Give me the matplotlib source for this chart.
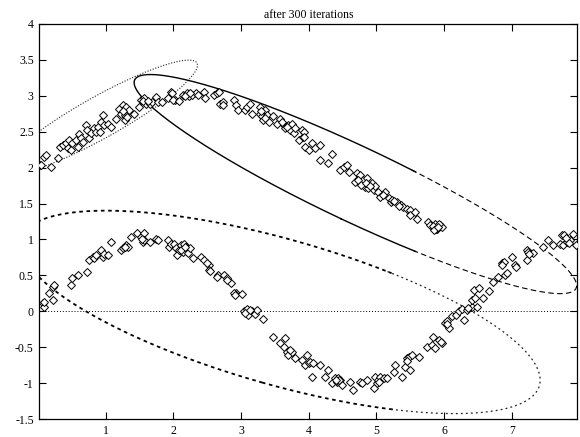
import numpy as np
import matplotlib
matplotlib.use("Agg")
import matplotlib.pyplot as plt

plt.rcParams.update({"font.family": "Liberation Serif", "font.size": 8.5})

# sample points, upper branch
upper_x = [0.03, 0.05, 0.095, 0.12, 0.19, 0.29, 0.32, 0.365, 0.41, 0.44, 0.46, 0.49,
           0.51, 0.56, 0.59, 0.61, 0.64, 0.66, 0.71, 0.73, 0.76, 0.78, 0.83, 0.86,
           0.88, 0.91, 0.93, 0.96, 0.98, 1.03, 1.08, 1.15, 1.20, 1.23, 1.25, 1.28,
           1.28, 1.30, 1.33, 1.35, 1.42, 1.50, 1.52, 1.57, 1.60, 1.65, 1.69, 1.74,
           1.77, 1.84, 1.92, 1.97, 2.02, 1.98, 2.00, 2.08, 2.15, 2.20, 2.23, 2.28,
           2.33, 2.37, 2.45, 2.47, 2.60, 2.65, 2.67, 2.69, 2.74, 2.74, 2.89, 2.92,
           2.96, 3.06, 3.09, 3.14, 3.16, 3.28, 3.28, 3.31, 3.36, 3.38, 3.33, 3.41,
           3.48, 3.53, 3.58, 3.63, 3.65, 3.70, 3.73, 3.75, 3.78, 3.80, 3.85, 3.90,
           3.92, 3.95, 4.00, 3.93, 3.93, 4.05, 4.10, 4.17, 4.17, 4.29, 4.34, 4.47,
           4.52, 4.57, 4.59, 4.69, 4.71, 4.74, 4.76, 4.79, 4.81, 4.83, 4.86, 4.88,
           4.93, 4.96, 4.98, 5.03, 5.06, 5.13, 5.18, 5.21, 5.23, 5.31, 5.36, 5.40,
           5.45, 5.50, 5.50, 5.57, 5.60, 5.77, 5.80, 5.85, 5.87, 5.90, 5.94, 5.97,
           5.83, 5.88, 5.92, 1.26, 1.32, 1.55, 1.62, 2.18, 2.25, 3.30, 3.35, 3.60,
           3.68, 4.73, 4.78, 4.84, 4.90, 5.10, 5.26, 5.34, 5.85, 5.91]
upper_y = [2.03, 2.04, 2.15, 2.17, 2.01, 2.13, 2.29, 2.31, 2.34, 2.27, 2.38, 2.25,
           2.34, 2.38, 2.29, 2.47, 2.41, 2.36, 2.59, 2.52, 2.41, 2.48, 2.55, 2.50,
           2.57, 2.50, 2.64, 2.73, 2.59, 2.61, 2.57, 2.68, 2.82, 2.75, 2.87, 2.73,
           2.66, 2.84, 2.75, 2.80, 2.75, 2.84, 2.94, 2.96, 2.89, 2.89, 2.91, 2.98,
           2.91, 2.91, 2.96, 3.05, 2.94, 3.03, 2.94, 2.92, 3.01, 3.03, 2.99, 3.01,
           3.03, 3.01, 3.05, 2.96, 3.01, 3.03, 3.05, 2.89, 2.91, 2.87, 2.94, 2.87,
           2.80, 2.80, 2.84, 2.89, 2.75, 2.84, 2.75, 2.71, 2.80, 2.73, 2.66, 2.64,
           2.71, 2.61, 2.68, 2.59, 2.55, 2.59, 2.52, 2.61, 2.48, 2.55, 2.38, 2.52,
           2.43, 2.29, 2.24, 2.50, 2.43, 2.34, 2.27, 2.31, 2.10, 2.06, 2.19, 1.96,
           2.01, 2.03, 1.94, 1.80, 1.92, 1.85, 1.89, 1.78, 1.82, 1.73, 1.85, 1.71,
           1.78, 1.69, 1.75, 1.66, 1.59, 1.66, 1.57, 1.52, 1.55, 1.52, 1.48, 1.45,
           1.43, 1.41, 1.34, 1.38, 1.29, 1.24, 1.20, 1.17, 1.22, 1.15, 1.20, 1.17,
           1.19, 1.14, 1.21, 2.78, 2.70, 2.92, 2.93, 3.00, 3.04, 2.78, 2.69, 2.63,
           2.57, 1.83, 1.76, 1.79, 1.74, 1.62, 1.54, 1.47, 1.13, 1.18]

# sample points, lower branch
lower_x = [0.07, 0.095, 0.095, 0.17, 0.22, 0.24, 0.22, 0.49, 0.51, 0.59, 0.73, 0.76,
           0.81, 0.83, 0.86, 0.93, 0.96, 0.98, 1.03, 1.08, 1.23, 1.25, 1.28, 1.30,
           1.33, 1.38, 1.47, 1.52, 1.57, 1.55, 1.57, 1.65, 1.74, 1.77, 1.92, 1.94,
           1.97, 2.01, 2.04, 2.06, 2.09, 2.11, 2.14, 2.16, 2.19, 2.21, 2.24, 2.29,
           2.41, 2.46, 2.53, 2.53, 2.66, 2.75, 2.80, 2.85, 2.93, 2.50, 2.64, 2.79,
           2.89, 2.91, 3.02, 3.04, 3.09, 3.11, 3.16, 3.21, 3.23, 3.33, 3.48, 3.58,
           3.63, 3.65, 3.68, 3.70, 3.75, 3.80, 3.90, 3.95, 3.97, 4.00, 4.05, 4.02,
           4.07, 4.17, 4.24, 4.29, 4.34, 4.39, 4.42, 4.44, 4.47, 4.49, 4.61, 4.66,
           4.76, 4.79, 4.86, 4.96, 4.98, 5.01, 5.03, 5.06, 5.11, 5.16, 5.26, 5.28,
           5.38, 5.43, 5.45, 5.48, 5.50, 5.53, 5.63, 5.75, 5.82, 5.84, 5.87, 5.92,
           5.97, 6.02, 6.04, 6.07, 6.12, 6.17, 6.22, 6.27, 6.29, 6.34, 6.41, 6.41,
           6.44, 6.46, 6.49, 6.51, 6.58, 6.66, 6.73, 6.80, 6.85, 6.88, 6.90, 6.93,
           7.00, 7.05, 7.07, 7.22, 7.22, 7.24, 7.32, 7.47, 7.54, 7.61, 7.71, 7.74,
           7.76, 7.78, 7.81, 7.86, 7.90, 7.95, 4.43, 4.45, 2.54, 1.53, 1.29, 2.12,
           2.18, 3.06, 3.13, 3.72, 4.41, 5.04, 5.46, 5.95, 6.05, 6.36, 6.86, 7.25,
           7.80, 7.84]
lower_y = [0.11, 0.06, 0.13, 0.25, 0.34, 0.37, 0.16, 0.37, 0.46, 0.51, 0.55, 0.71,
           0.76, 0.74, 0.78, 0.85, 0.76, 0.80, 0.78, 0.97, 0.85, 0.88, 0.90, 0.92,
           0.90, 1.04, 1.09, 1.04, 1.09, 0.97, 0.99, 0.97, 1.01, 0.99, 0.99, 0.90,
           0.94, 0.94, 0.88, 0.78, 0.85, 0.92, 0.83, 0.94, 0.90, 0.81, 0.88, 0.74,
           0.76, 0.71, 0.64, 0.57, 0.50, 0.50, 0.46, 0.39, 0.25, 0.67, 0.48, 0.44,
           0.25, 0.23, 0.24, 0.00, 0.04, -0.05, 0.00, -0.03, 0.02, -0.10, -0.35, -0.44,
           -0.49, -0.37, -0.56, -0.60, -0.56, -0.65, -0.68, -0.75, -0.61, -0.72, -0.91, -0.70,
           -0.72, -0.75, -0.91, -0.82, -1.00, -0.93, -0.98, -0.93, -0.96, -1.03, -0.98, -1.09,
           -0.98, -1.00, -0.96, -1.07, -0.91, -1.00, -0.96, -0.91, -0.93, -0.93, -0.84, -0.75,
           -0.91, -0.77, -0.65, -0.63, -0.82, -0.61, -0.63, -0.49, -0.47, -0.35, -0.51, -0.40,
           -0.44, -0.16, -0.14, -0.23, -0.07, -0.05, 0.00, 0.04, -0.12, 0.02, 0.06, 0.16,
           0.30, 0.18, 0.06, 0.32, 0.18, 0.28, 0.41, 0.48, 0.67, 0.69, 0.50, 0.53,
           0.76, 0.65, 0.62, 0.71, 0.85, 0.83, 0.81, 0.90, 0.99, 0.92, 0.94, 1.06,
           0.92, 1.06, 0.97, 0.99, 1.08, 0.92, -0.97, -0.95, 0.56, 1.00, 0.89, 0.86,
           0.89, -0.02, 0.02, -0.53, -0.95, -0.98, -0.69, -0.42, -0.18, 0.05, 0.64, 0.80,
           1.02, 0.95]

# mixture components: means and covariances
means = [(0.92, 2.70), (4.69, 1.77), (3.58, -0.01)]
covs = [[[2.065, 1.038], [1.038, 0.63]],
        [[10.69, -4.612], [-4.612, 2.32]],
        [[14.75, -3.63], [-3.63, 1.99]]]


def ellipse(mean, cov, n=721):
    vals, vecs = np.linalg.eigh(np.array(cov))
    t = np.linspace(0, 2 * np.pi, n)
    circ = np.vstack([np.cos(t), np.sin(t)])
    pts = vecs @ (np.sqrt(vals)[:, None] * circ)
    return pts[0] + mean[0], pts[1] + mean[1]


def split(x, y, thr):
    left = np.where(x <= thr + 0.05, y, np.nan)
    right = np.where(x >= thr - 0.05, y, np.nan)
    return left, right


fig = plt.figure(figsize=(5.8, 4.37), dpi=100)
ax = fig.add_axes([0.0678, 0.0405, 0.9276, 0.9053])

ax.axhline(0, color="black", lw=0.7, ls=(0, (1, 2)))

# component 1: thin dotted
ex, ey = ellipse(means[0], covs[0])
ax.plot(ex, ey, color="#222222", lw=0.8, ls=(0, (1, 1.5)))

# component 2: solid, dashed towards the right end
ex, ey = ellipse(means[1], covs[1])
l, r = split(ex, ey, 5.55)
ax.plot(ex, l, color="black", lw=1.0)
ax.plot(ex, r, color="black", lw=0.8, ls=(0, (5, 3)))

# component 3: heavy short dashes, finer on the right
ex, ey = ellipse(means[2], covs[2])
l, r = split(ex, ey, 5.2)
ax.plot(ex, l, color="black", lw=1.3, ls=(0, (2, 2)))
ax.plot(ex, r, color="#222222", lw=0.9, ls=(0, (1.5, 2.5)))

for xs, ys in ((upper_x, upper_y), (lower_x, lower_y)):
    ax.plot(xs, ys, "D", ms=3.8, mfc="white", mec="black", mew=0.7, zorder=3)

ax.set_xlim(0.02, 7.97)
ax.set_ylim(-1.5, 4)
ax.set_xticks(np.arange(1, 8))
ax.set_yticks(np.arange(-1.5, 4.01, 0.5))
ax.set_yticklabels(["-1.5", "-1", "-0.5", "0", "0.5", "1", "1.5", "2", "2.5",
                    "3", "3.5", "4"])
ax.tick_params(direction="in", length=5, width=0.8, top=True, right=True,
               labelsize=8.5, pad=4)
for s in ax.spines.values():
    s.set_linewidth(0.9)
ax.set_title("after 300 iterations", fontsize=8.5, pad=4)

fig.savefig("out.png", dpi=100)
